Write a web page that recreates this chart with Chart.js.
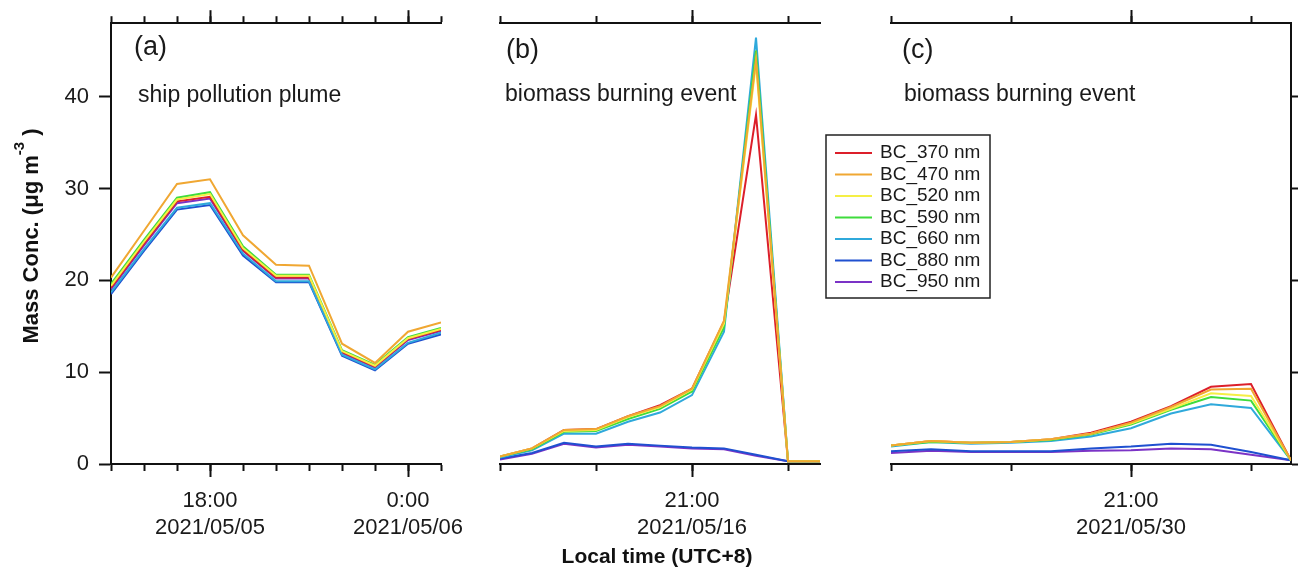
<!DOCTYPE html>
<html>
<head>
<meta charset="utf-8">
<script src="https://cdn.jsdelivr.net/npm/chart.js@4.4.0/dist/chart.umd.min.js"></script>
<style>
  body { margin: 0; background: #fff; }
  #wrap { position: relative; width: 1298px; height: 573px; }
  canvas { position: absolute; left: 0; top: 0; }
</style>
</head>
<body>
<div id="wrap">
  <canvas id="panelA" width="1298" height="573"></canvas>
  <canvas id="panelB" width="1298" height="573"></canvas>
  <canvas id="panelC" width="1298" height="573"></canvas>
</div>
<script>
const seriesNames = ['BC_370 nm', 'BC_470 nm', 'BC_520 nm', 'BC_590 nm', 'BC_660 nm', 'BC_880 nm', 'BC_950 nm'];
const seriesColors = ['#dc1f2a', '#f0a732', '#f5ef45', '#3fdc3c', '#2fa9db', '#1f50d0', '#7b33c6'];
// lower number is drawn on top
const seriesOrder = [4, 0, 1, 2, 3, 5, 6];

// (a) ship pollution plume, 2021/05/05-06, hourly
const timesA = ['15:00', '16:00', '17:00', '18:00', '19:00', '20:00', '21:00', '22:00', '23:00', '0:00', '1:00'];
const a370 = [19.2, 24.0, 28.6, 29.1, 23.3, 20.3, 20.3, 12.2, 10.6, 13.6, 14.6];
const a470 = [20.3, 25.4, 30.5, 31.0, 24.9, 21.7, 21.6, 13.1, 11.0, 14.4, 15.4];
const a520 = [19.4, 24.2, 28.8, 29.4, 23.5, 20.5, 20.5, 12.3, 10.7, 13.7, 14.7];
const a590 = [19.6, 24.4, 29.0, 29.6, 23.7, 20.6, 20.6, 12.4, 10.8, 13.8, 14.8];
const a660 = [18.7, 23.4, 27.9, 28.4, 22.9, 19.9, 19.9, 11.9, 10.3, 13.2, 14.3];
const a880 = [18.5, 23.2, 27.7, 28.2, 22.7, 19.8, 19.8, 11.8, 10.2, 13.1, 14.1];
const a950 = [19.0, 23.8, 28.4, 28.9, 23.2, 20.2, 20.2, 12.1, 10.5, 13.5, 14.5];

// (b) biomass burning event, 2021/05/16
const timesB = ['19:00', '19:20', '19:40', '20:00', '20:20', '20:40', '21:00', '21:20', '21:40', '22:00', '22:20'];
const b370 = [0.8, 1.7, 3.7, 3.8, 5.2, 6.4, 8.2, 15.5, 38.0, 0.3, 0.3];
const b470 = [0.8, 1.7, 3.7, 3.8, 5.2, 6.3, 8.2, 15.6, 44.0, 0.3, 0.3];
const b520 = [0.8, 1.7, 3.6, 3.7, 5.1, 6.2, 8.1, 15.3, 43.6, 0.3, 0.3];
const b590 = [0.8, 1.6, 3.5, 3.6, 4.9, 6.0, 7.9, 14.9, 45.0, 0.3, 0.3];
const b660 = [0.7, 1.5, 3.3, 3.3, 4.6, 5.6, 7.5, 14.4, 46.4, 0.3, 0.3];
const b880 = [0.6, 1.2, 2.3, 1.9, 2.2, 2.0, 1.8, 1.7, 1.0, 0.3, 0.3];
const b950 = [0.5, 1.1, 2.2, 1.8, 2.1, 1.9, 1.7, 1.6, 0.9, 0.3, 0.3];

// (c) biomass burning event, 2021/05/30
const timesC = ['19:00', '19:20', '19:40', '20:00', '20:20', '20:40', '21:00', '21:20', '21:40', '22:00', '22:20'];
const c370 = [2.0, 2.5, 2.3, 2.4, 2.7, 3.4, 4.6, 6.3, 8.4, 8.7, 0.4];
const c470 = [2.0, 2.5, 2.3, 2.4, 2.7, 3.3, 4.5, 6.2, 8.1, 8.2, 0.4];
const c520 = [2.0, 2.5, 2.3, 2.4, 2.7, 3.3, 4.4, 6.0, 7.7, 7.4, 0.4];
const c590 = [2.0, 2.4, 2.3, 2.4, 2.6, 3.2, 4.3, 5.9, 7.3, 6.9, 0.4];
const c660 = [1.9, 2.4, 2.2, 2.3, 2.5, 3.0, 3.9, 5.5, 6.5, 6.1, 0.4];
const c880 = [1.4, 1.6, 1.4, 1.4, 1.4, 1.7, 1.9, 2.2, 2.1, 1.3, 0.4];
const c950 = [1.2, 1.45, 1.3, 1.3, 1.3, 1.45, 1.5, 1.7, 1.6, 1.0, 0.4];

// axis ticks (hours; 24 = 0:00 next day)
const yTicks = [0, 10, 20, 30, 40];
const minorA = [15, 16, 17, 18, 19, 20, 21, 22, 23, 24, 25];
const majorA = [18, 24];
const labelsA = [['18:00', '2021/05/05'], ['0:00', '2021/05/06']];
const minorB = [19, 20, 21, 22];
const majorB = [21];
const labelsB = [['21:00', '2021/05/16']];
const minorC = [19, 20, 21, 22];
const majorC = [21];
const labelsC = [['21:00', '2021/05/30']];

const FONT = '"Liberation Sans", Arial, sans-serif';
const INK = '#111';
const LABEL_AXIS = 90; // room given to axes that carry labels

function toHours(list) {
  let prev = -1, add = 0;
  return list.map(t => {
    const [h, m] = t.split(':').map(Number);
    let v = h + m / 60 + add;
    if (v < prev) { add += 24; v += 24; }
    prev = v;
    return v;
  });
}

// fixed axis sizes, so the chart area comes out where the panel frame is
function sizeTo(n) {
  return scale => {
    if (scale.isHorizontal()) scale.height = n; else scale.width = n;
  };
}

function xAxis(pos, min, max, vals, len, labels, border) {
  return {
    type: 'linear', position: pos, min: min, max: max,
    afterFit: sizeTo(labels ? LABEL_AXIS : 0),
    afterBuildTicks: s => { s.ticks = vals.map(v => ({ value: v })); },
    grid: { drawOnChartArea: false, drawTicks: true, tickLength: len, tickWidth: 2, tickColor: INK },
    border: { display: border, color: INK, width: 2 },
    ticks: labels
      ? { autoSkip: false, maxRotation: 0, padding: 11, color: '#1a1a1a', font: { family: FONT, size: 22 }, callback: (v, i) => labels[i] }
      : { display: false }
  };
}

function yAxis(pos, showLabels) {
  return {
    type: 'linear', position: pos, min: 0, max: 48,
    afterFit: sizeTo(showLabels ? LABEL_AXIS : 0),
    afterBuildTicks: s => { s.ticks = yTicks.map(v => ({ value: v })); },
    grid: { drawOnChartArea: false, drawTicks: true, tickLength: 12, tickWidth: 2, tickColor: INK },
    border: { display: true, color: INK, width: 2 },
    ticks: showLabels
      ? { padding: 10, color: '#1a1a1a', font: { family: FONT, size: 22 } }
      : { display: false }
  };
}

const notesPlugin = {
  id: 'notes',
  afterDraw(chart, args, opts) {
    const ctx = chart.ctx;
    ctx.save();
    ctx.fillStyle = '#1a1a1a';
    ctx.textBaseline = 'middle';
    ctx.textAlign = 'left';
    (opts.items || []).forEach(n => {
      ctx.font = n.size + 'px ' + FONT;
      ctx.fillText(n.text, n.x, n.y);
    });
    ctx.restore();
  }
};

const legendBox = {
  id: 'legendBox',
  afterDraw(chart, args, opts) {
    if (!opts.show) return;
    const ctx = chart.ctx;
    ctx.save();
    ctx.fillStyle = '#fff';
    ctx.fillRect(826, 135, 164, 163);
    ctx.strokeStyle = '#222';
    ctx.lineWidth = 1.5;
    ctx.strokeRect(826, 135, 164, 163);
    ctx.font = '19px ' + FONT;
    ctx.textBaseline = 'middle';
    chart.data.datasets.forEach((ds, i) => {
      const y = 153 + i * 21.5;
      ctx.strokeStyle = ds.borderColor;
      ctx.lineWidth = 2;
      ctx.beginPath();
      ctx.moveTo(835, y);
      ctx.lineTo(872, y);
      ctx.stroke();
      ctx.fillStyle = '#1a1a1a';
      ctx.fillText(ds.label, 880, y);
    });
    ctx.restore();
  }
};

const titlesPlugin = {
  id: 'titles',
  afterDraw(chart, args, opts) {
    if (!opts.show) return;
    const ctx = chart.ctx;
    ctx.save();
    ctx.fillStyle = INK;
    ctx.textBaseline = 'middle';
    ctx.font = 'bold 21px ' + FONT;
    ctx.textAlign = 'center';
    ctx.fillText('Local time (UTC+8)', 657, 557);

    ctx.translate(32, 236);
    ctx.rotate(-Math.PI / 2);
    ctx.textAlign = 'left';
    ctx.font = 'bold 22px ' + FONT;
    const main = 'Mass Conc. (μg m', sup = '-3', tail = ' )';
    const w1 = ctx.measureText(main).width;
    const w3 = ctx.measureText(tail).width;
    ctx.font = 'bold 15px ' + FONT;
    const w2 = ctx.measureText(sup).width;
    const x0 = -(w1 + w2 + w3) / 2;
    ctx.fillText(sup, x0 + w1, -12);
    ctx.font = 'bold 22px ' + FONT;
    ctx.fillText(main, x0, 0);
    ctx.fillText(tail, x0 + w1 + w2, 0);
    ctx.restore();
  }
};

function makePanel(id, p) {
  const xs = toHours(p.times);
  const datasets = p.series.map((vals, i) => ({
    label: seriesNames[i],
    data: vals.map((v, j) => ({ x: xs[j], y: v })),
    borderColor: seriesColors[i],
    borderWidth: 2,
    pointRadius: 0,
    tension: 0,
    order: seriesOrder[i],
    xAxisID: 'x',
    yAxisID: 'y'
  }));
  const scales = {
    x: xAxis('bottom', p.min, p.max, p.minor, 7, null, true),
    xMaj: xAxis('bottom', p.min, p.max, p.major, 13, p.labels, false),
    xTop: xAxis('top', p.min, p.max, p.minor, 7, null, true),
    xTopMaj: xAxis('top', p.min, p.max, p.major, 13, null, false),
    y: p.yLeft ? yAxis('left', true) : { type: 'linear', display: false, min: 0, max: 48 }
  };
  if (p.yRight) scales.yR = yAxis('right', false);

  const padLeft = p.left - (p.yLeft ? LABEL_AXIS : 0);
  return new Chart(document.getElementById(id), {
    type: 'line',
    data: { datasets: datasets },
    options: {
      responsive: false,
      animation: false,
      layout: { padding: { left: padLeft, right: 1298 - p.right, top: 23, bottom: 573 - 464 - LABEL_AXIS } },
      scales: scales,
      plugins: {
        legend: { display: false },
        tooltip: { enabled: false },
        notes: { items: p.notes },
        legendBox: { show: !!p.legend },
        titles: { show: !!p.titles }
      }
    },
    plugins: [notesPlugin, legendBox, titlesPlugin]
  });
}

makePanel('panelA', {
  times: timesA, series: [a370, a470, a520, a590, a660, a880, a950],
  min: 15, max: 25, minor: minorA, major: majorA, labels: labelsA,
  left: 111, right: 441, yLeft: true, titles: true,
  notes: [{ text: '(a)', x: 134, y: 48, size: 27 }, { text: 'ship pollution plume', x: 138, y: 96, size: 23 }]
});

makePanel('panelB', {
  times: timesB, series: [b370, b470, b520, b590, b660, b880, b950],
  min: 19, max: 22 + 1 / 3, minor: minorB, major: majorB, labels: labelsB,
  left: 500, right: 820, legend: true,
  notes: [{ text: '(b)', x: 506, y: 51, size: 27 }, { text: 'biomass burning event', x: 505, y: 95, size: 23 }]
});

makePanel('panelC', {
  times: timesC, series: [c370, c470, c520, c590, c660, c880, c950],
  min: 19, max: 22 + 1 / 3, minor: minorC, major: majorC, labels: labelsC,
  left: 891, right: 1291, yRight: true,
  notes: [{ text: '(c)', x: 902, y: 51, size: 27 }, { text: 'biomass burning event', x: 904, y: 95, size: 23 }]
});
</script>
</body>
</html>
